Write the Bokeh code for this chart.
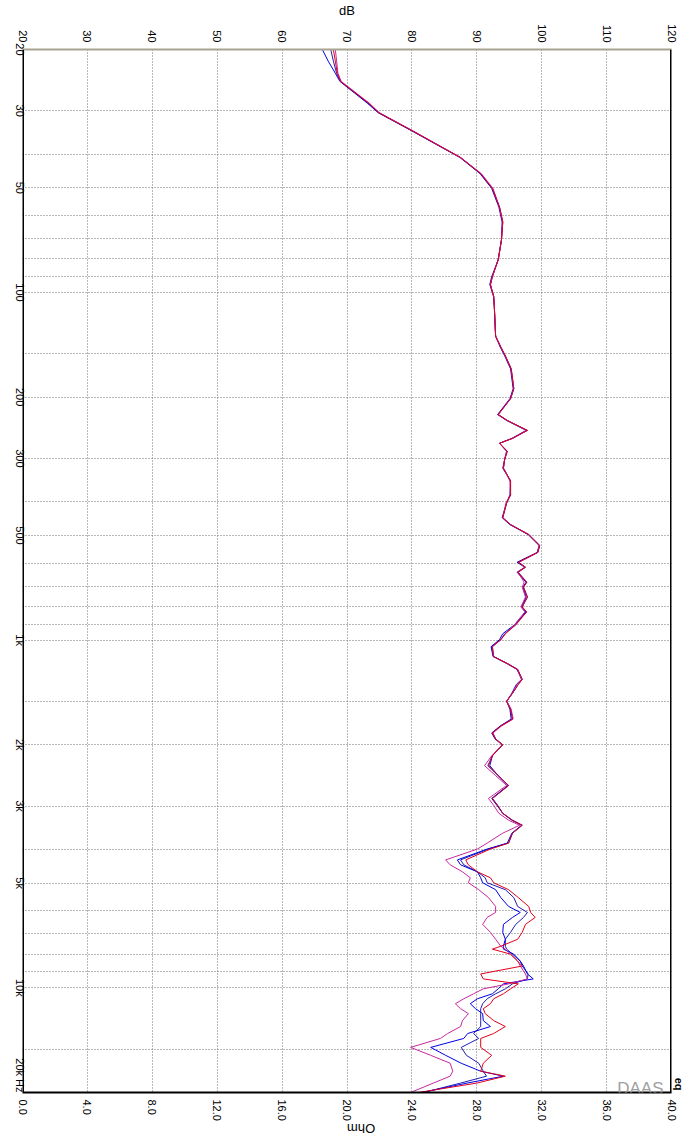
import math
from bokeh.plotting import figure
from bokeh.models import Range1d, LinearAxis, FixedTicker, Label, Span, NumeralTickFormatter, Title
from bokeh.embed import file_html
from bokeh.resources import INLINE

# ---------------- data ----------------
freq_hz = [20, 21.6, 23.4, 24.7, 28.5, 30.4, 34.3, 40.9, 45.5, 50.2,
           56.8, 62.7, 70.6, 80.5, 90.0, 94.9, 102.7, 109.7, 133.5, 143.5,
           152.2, 165.8, 189.1, 202, 224.4, 233.4, 249.2, 262.8, 271.4, 286.2,
           301.6, 320, 348.4, 382, 402.6, 444.4, 465.2, 496.8, 534, 559.2,
           597, 617, 637.6, 681, 703.6, 751.4, 802.4, 829.2, 903.2, 958.2,
           996.8, 1043.8, 1114.6, 1167, 1214, 1296.4, 1339.8, 1421.2, 1498.2, 1579,
           1686, 1765.4, 1848.6, 1922.8, 2000, 2150, 2296, 2452, 2618, 2852,
           2986, 3148, 3296, 3406, 3590, 3834, 3988, 4286, 4428, 4638,
           4824, 4986, 5220, 5500, 5834, 6070, 6272, 6568, 6922, 7248,
           7590, 7740, 8000, 8376, 8654, 9122, 9426, 9740, 10066, 10402,
           10750, 11108, 11480, 11864, 12422, 12922, 13530, 13982, 14834, 15634,
           16478, 17370, 17950, 18792, 20000]

red_db = [67.9, 68.2, 68.5, 69.0, 73.3, 74.9, 80.1, 87.5, 90.6, 92.4,
          93.5, 94.0, 93.8, 93.3, 92.4, 92.1, 92.6, 92.7, 92.9, 93.7,
          94.4, 95.3, 95.7, 95.2, 93.3, 94.7, 97.8, 95.5, 93.5, 94.7,
          94.3, 94.1, 95.2, 95.2, 94.6, 94.0, 95.2, 98.0, 99.7, 99.4,
          96.4, 97.5, 96.3, 97.7, 97.2, 97.8, 97.0, 97.7, 96.0, 94.4,
          93.7, 92.4, 92.6, 94.7, 96.3, 97.0, 96.4, 95.5, 94.6, 95.2,
          95.5, 93.7, 92.4, 92.9, 94.0, 92.4, 91.8, 93.3, 94.9, 92.4,
          93.2, 94.0, 95.5, 97.0, 95.5, 94.9, 92.1, 88.3, 88.7, 90.1,
          92.1, 92.6, 94.9, 96.4, 98.0, 98.3, 99.0, 97.5, 97.0, 96.3,
          93.7, 92.4, 95.2, 96.3, 97.0, 90.6, 91.0, 96.4, 95.2, 94.1,
          92.6, 92.1, 91.0, 91.3, 92.6, 94.4, 92.6, 90.6, 90.6, 92.3,
          91.0, 90.6, 94.4, 90.0, 81.0]

blue_db = [66.2, 67.1, 68.2, 68.9, 73.1, 74.8, 80.0, 87.4, 90.5, 92.3,
           93.4, 93.9, 93.8, 93.3, 92.3, 92.0, 92.6, 92.7, 92.9, 93.6,
           94.3, 95.2, 95.6, 95.1, 93.2, 94.6, 97.6, 95.4, 93.5, 94.6,
           94.3, 94.0, 95.2, 95.1, 94.6, 93.9, 95.1, 97.9, 99.6, 99.3,
           96.2, 97.4, 96.2, 97.6, 97.1, 97.6, 96.9, 97.6, 95.8, 94.0,
           93.5, 92.2, 92.5, 94.6, 96.2, 96.9, 96.1, 95.4, 94.6, 95.1,
           95.3, 93.6, 92.3, 92.8, 93.9, 92.4, 92.0, 93.3, 94.8, 92.3,
           93.1, 94.0, 95.4, 96.9, 95.4, 94.7, 91.6, 87.0, 87.5, 90.1,
           90.6, 90.9, 92.9, 93.7, 94.9, 96.7, 95.5, 94.1, 94.0, 94.4,
           94.1, 94.1, 95.7, 96.7, 97.2, 97.8, 98.7, 94.1, 93.3, 92.4,
           90.1, 89.0, 89.8, 90.9, 91.0, 92.1, 88.6, 88.0, 82.9, 85.2,
           87.6, 90.6, 94.1, 88.5, 81.5]

navy_db = [67.5, 67.9, 68.4, 69.0, 73.2, 74.9, 80.1, 87.5, 90.6, 92.4,
           93.5, 94.0, 93.8, 93.3, 92.4, 92.1, 92.6, 92.7, 92.9, 93.7,
           94.4, 95.3, 95.7, 95.2, 93.3, 94.7, 97.8, 95.5, 93.5, 94.7,
           94.3, 94.1, 95.2, 95.2, 94.6, 94.0, 95.2, 98.0, 99.7, 99.4,
           96.4, 97.5, 96.4, 97.7, 97.2, 97.8, 97.0, 97.6, 96.0, 94.3,
           93.7, 92.3, 92.6, 94.7, 96.3, 97.0, 96.4, 95.5, 94.6, 95.2,
           95.5, 93.7, 92.4, 92.9, 94.0, 92.4, 91.7, 93.3, 94.9, 92.4,
           93.2, 94.0, 95.5, 97.0, 95.5, 94.9, 91.8, 87.5, 88.0, 90.1,
           91.3, 91.6, 94.4, 95.7, 96.3, 97.8, 97.2, 96.0, 95.2, 94.4,
           94.4, 94.6, 95.5, 96.7, 97.0, 97.9, 97.8, 95.5, 94.4, 92.9,
           91.6, 90.9, 90.6, 90.6, 90.6, 90.6, 89.5, 90.3, 87.6, 88.4,
           90.3, 91.0, 91.5, 87.5, 81.8]

magenta_db = [68.2, 68.4, 68.6, 69.1, 73.4, 75.0, 80.2, 87.5, 90.7, 92.5,
              93.5, 94.0, 93.8, 93.3, 92.4, 92.1, 92.6, 92.7, 92.9, 93.7,
              94.4, 95.3, 95.7, 95.2, 93.3, 94.7, 97.7, 95.5, 93.5, 94.6,
              94.3, 94.1, 95.1, 95.2, 94.5, 94.0, 95.2, 98.0, 99.6, 99.4,
              96.5, 97.4, 96.3, 97.3, 97.0, 97.5, 96.8, 97.4, 95.8, 94.4,
              93.7, 92.4, 92.6, 94.7, 96.3, 96.9, 96.2, 95.5, 94.6, 95.3,
              95.6, 93.8, 92.5, 92.9, 93.9, 92.3, 91.2, 92.9, 94.6, 91.8,
              92.6, 93.4, 94.9, 96.6, 94.0, 91.6, 90.1, 85.2, 85.9, 87.8,
              89.0, 88.7, 90.3, 91.8, 92.9, 92.9, 91.6, 90.9, 92.1, 92.9,
              93.7, 94.4, 95.2, 96.3, 96.7, 97.5, 97.8, 94.9, 91.0, 89.5,
              88.0, 86.7, 87.5, 88.7, 87.8, 87.5, 85.5, 84.4, 79.8, 82.9,
              85.9, 86.3, 85.9, 83.3, 79.8]

db_ticks = [20, 30, 40, 50, 60, 70, 80, 90, 100, 110, 120]
ohm_ticks = [0, 4, 8, 12, 16, 20, 24, 28, 32, 36, 40]
freq_ticks = [20, 30, 50, 100, 200, 300, 500, 1000, 2000, 3000, 5000, 10000, 20000]
freq_tick_labels = ["20", "30", "50", "100", "200", "300", "500", "1k", "2k", "3k", "5k", "10k", "20k Hz"]
freq_grid = [20, 30, 40, 50, 60, 70, 80, 90, 100, 150, 200, 300, 400, 500, 600, 700, 800, 900,
             1000, 1500, 2000, 3000, 4000, 5000, 6000, 7000, 8000, 9000, 10000, 15000, 20000]

# ---------------- layout constants ----------------
FONT = "Liberation Sans"
W, H = 693, 1146
FRAME_L, FRAME_R, FRAME_T, FRAME_B = 22, 671, 48, 1097
FRAME_H = FRAME_B - FRAME_T

p = figure(width=W, height=H,
           x_range=Range1d(20, 120), y_range=Range1d(20000, 20),
           y_axis_type="log", x_axis_location="above",
           output_backend="svg", toolbar_location=None,
           min_border_left=FRAME_L, min_border_right=W - FRAME_R,
           min_border_top=FRAME_T, min_border_bottom=H - FRAME_B)
p.outline_line_color = None
p.background_fill_color = "white"
p.border_fill_color = "white"

p.extra_x_ranges = {"ohm": Range1d(0, 40)}
ohm_axis = LinearAxis(x_range_name="ohm", ticker=FixedTicker(ticks=ohm_ticks),
                      formatter=NumeralTickFormatter(format="0.0"))
p.add_layout(ohm_axis, "below")

top_axis = p.xaxis[0]
top_axis.ticker = FixedTicker(ticks=db_ticks)

# Rotated left labels are end-anchored by Bokeh; place each label's anchor
# half a label length below its frequency so the text is centred on it
# (the last one cannot leave the frame, so it ends at the bottom edge).
CHAR_W = {"k": 0.5, " ": 0.278, "H": 0.722, "z": 0.5}
def text_w(s, size=11):
    return sum(CHAR_W.get(c, 0.556) for c in s) * size

left_axis = p.yaxis[0]
anchor_vals, overrides = [], {}
for f, lab in zip(freq_ticks, freq_tick_labels):
    v = round(min(f * 1000 ** (text_w(lab) / 2.0 / FRAME_H), 20000), 3)
    anchor_vals.append(v)
    overrides[v] = lab
left_axis.ticker = FixedTicker(ticks=anchor_vals)
left_axis.major_label_overrides = overrides
left_axis.axis_line_color = None
left_axis.major_label_standoff = 3

for ax in (top_axis, left_axis, ohm_axis):
    ax.major_tick_in = 0
    ax.major_tick_out = 0
    ax.minor_tick_in = 0
    ax.minor_tick_out = 0
    ax.major_label_text_font = FONT
    ax.major_label_text_font_size = "11px"
    ax.major_label_text_color = "black"
    ax.major_label_orientation = -math.pi / 2
    ax.axis_label_text_font = FONT
    ax.axis_label_text_font_size = "13px"
    ax.axis_label_text_font_style = "normal"
    ax.axis_label_text_color = "black"

top_axis.major_label_standoff = 7
top_axis.axis_line_color = "#a8a490"
top_axis.axis_line_width = 2
top_axis.axis_label = "dB"
top_axis.axis_label_standoff = 3

ohm_axis.major_label_standoff = 7
ohm_axis.axis_line_color = "black"
ohm_axis.axis_line_width = 2
ohm_axis.axis_label = "Ohm"
ohm_axis.axis_label_standoff = 5
try:
    ohm_axis.axis_label_orientation = math.pi
except Exception:
    pass

p.xgrid.ticker = FixedTicker(ticks=db_ticks)
p.ygrid.ticker = FixedTicker(ticks=freq_grid)
for g in (p.xgrid[0], p.ygrid[0]):
    g.grid_line_color = "#707070"
    g.grid_line_dash = "1 2"
    g.grid_line_width = 1

# frame borders (left black, right black)
p.add_layout(Span(location=20, dimension="height", line_color="black", line_width=3))
p.add_layout(Span(location=120, dimension="height", line_color="black", line_width=3))

# ---------------- curves ----------------
series = [(navy_db, "#1e1eb4"), (blue_db, "#0000e6"), (magenta_db, "#c8289c"), (red_db, "#e0001c")]
for vals, col in series:
    p.line(x=vals, y=freq_hz, line_color=col, line_width=1)

# ---------------- texts ----------------
def px_x(x):
    return 20 + (x - FRAME_L) * 100.0 / (FRAME_R - FRAME_L)

def px_y(y):
    return 20 * 1000 ** ((y - FRAME_T) / float(FRAME_H))

p.add_layout(Label(x=px_x(663), y=px_y(1093), text="DAAS", text_font=FONT, text_font_size="17px",
                   text_align="right", text_baseline="alphabetic", text_color="#a0a0a0"))
p.add_layout(Title(text="eq", align="right", text_font=FONT, text_font_size="11px",
                   text_font_style="bold", text_color="black", standoff=2, offset=2), "right")

open("out.html", "w").write(file_html(p, INLINE))
